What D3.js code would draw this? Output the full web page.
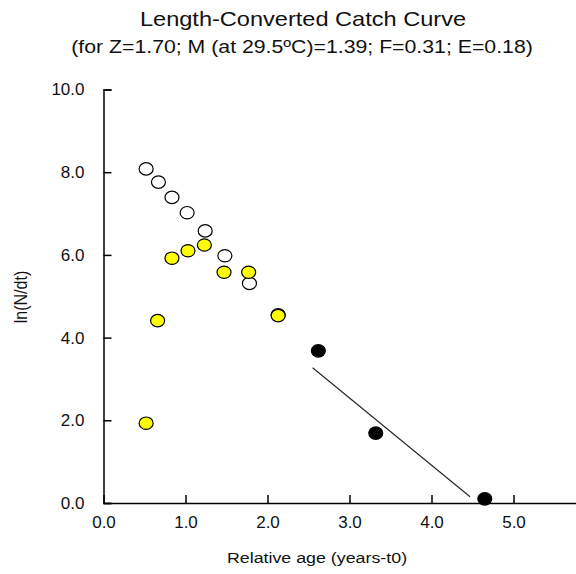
<!DOCTYPE html>
<html>
<head>
<meta charset="utf-8">
<script src="https://cdn.jsdelivr.net/npm/d3@7"></script>
<style>
  body { margin: 0; background: #fff; }
  svg { display: block; font-family: "Liberation Sans", Arial, sans-serif; }
  .axis path, .axis line { stroke: #000; stroke-width: 1.5; }
  .axis text { fill: #111; font-size: 17px; }
</style>
</head>
<body>
<div id="chart"></div>
<script>
// open circles: full length-converted catch points
const openAge = [0.52, 0.67, 0.835, 1.02, 1.24, 1.48, 1.78, 2.13];
const openLnN = [8.08, 7.76, 7.39, 7.02, 6.58, 5.98, 5.31, 4.55];
// yellow: points not fully recruited
const yellowAge = [0.52, 0.66, 0.835, 1.03, 1.23, 1.47, 1.77, 2.13];
const yellowLnN = [1.93, 4.41, 5.92, 6.10, 6.24, 5.58, 5.58, 4.53];
// black: points used in the regression
const blackAge = [2.62, 3.32, 4.65];
const blackLnN = [3.68, 1.69, 0.10];
// regression line ends
const fitAge = [2.55, 4.47];
const fitLnN = [3.27, 0.15];

const xTicks = [0, 1, 2, 3, 4, 5];
const yTicks = [0, 2, 4, 6, 8, 10];

const title = 'Length-Converted Catch Curve';
const subtitle = '(for Z=1.70; M (at 29.5\u00BAC)=1.39; F=0.31; E=0.18)';
const xLabel = 'Relative age (years-t0)';
const yLabel = 'ln(N/dt)';

const size = { w: 576, h: 574 };
const margin = { top: 89.5, left: 103.5, bottom: 71 };
const SX = 1.15; // text in the source is stretched sideways

const x = d3.scaleLinear().domain([0, 6]).range([margin.left, margin.left + 6 * 82]);
const y = d3.scaleLinear().domain([0, 10]).range([size.h - margin.bottom, margin.top]);

const svg = d3.select('#chart').append('svg')
    .attr('width', size.w)
    .attr('height', size.h);

const stretched = (tx, ty, txt, fs, anchor) => svg.append('text')
    .attr('transform', `translate(${tx},${ty}) scale(${SX},1)`)
    .attr('text-anchor', anchor || 'middle')
    .attr('font-size', fs)
    .attr('fill', '#111')
    .text(txt);

stretched(303, 26, title, 20.5);
stretched(302, 53, subtitle, 18.5);
stretched(317, 563, xLabel, 15.5);

svg.append('text')
    .attr('transform', `translate(27,297) rotate(-90) scale(1,${SX})`)
    .attr('text-anchor', 'middle')
    .attr('font-size', 16)
    .attr('fill', '#111')
    .text(yLabel);

const xAxis = svg.append('g')
    .attr('class', 'axis axis-x')
    .attr('transform', `translate(0, ${y(0)})`)
    .call(d3.axisBottom(x)
        .tickValues(xTicks)
        .tickFormat(d3.format('.1f'))
        .tickSizeInner(-8)
        .tickSizeOuter(0)
        .tickPadding(13));

svg.append('g')
    .attr('class', 'axis axis-y')
    .attr('transform', `translate(${x(0)}, 0)`)
    .call(d3.axisLeft(y)
        .tickValues(yTicks)
        .tickFormat(d3.format('.1f'))
        .tickSizeInner(-8)
        .tickSizeOuter(-8)
        .tickPadding(19));

svg.append('line')
    .attr('x1', x(fitAge[0])).attr('y1', y(fitLnN[0]))
    .attr('x2', x(fitAge[1])).attr('y2', y(fitLnN[1]))
    .attr('stroke', '#222')
    .attr('stroke-width', 1.1);

const dots = (ages, vals, fill) => svg.append('g')
    .selectAll('ellipse')
    .data(ages.map((a, i) => [a, vals[i]]))
    .enter().append('ellipse')
    .attr('cx', d => x(d[0]))
    .attr('cy', d => y(d[1]))
    .attr('rx', 7)
    .attr('ry', 6.2)
    .attr('fill', fill)
    .attr('stroke', '#000')
    .attr('stroke-width', 1.2);

dots(openAge, openLnN, '#fff');
dots(yellowAge, yellowLnN, '#ffff00');
dots(blackAge, blackLnN, '#000');
</script>
</body>
</html>
